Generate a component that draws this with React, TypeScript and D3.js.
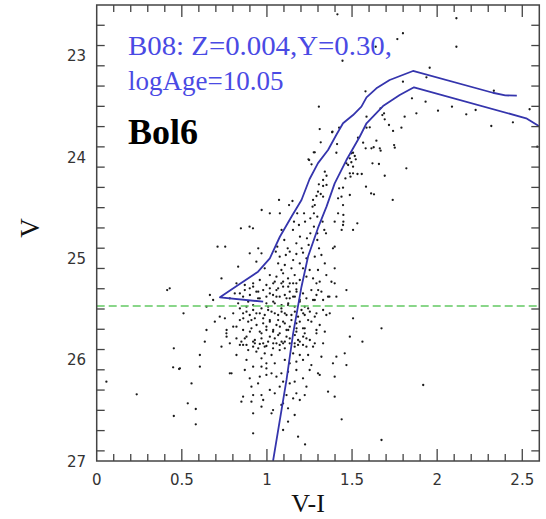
import React from "react";
import * as d3 from "d3";

// ---- data (V-I colour, V magnitude) ----
const isoUpper: [number, number][] = [
  [0.978, 25.428], [0.724, 25.385], [0.831, 25.263], [0.948, 25.132], [1.017, 25.0],
  [1.076, 24.787], [1.144, 24.589], [1.203, 24.424], [1.25, 24.22], [1.3, 24.06],
  [1.359, 23.931], [1.408, 23.78], [1.447, 23.667], [1.506, 23.586], [1.555, 23.503],
  [1.585, 23.411], [1.643, 23.322], [1.721, 23.24], [1.858, 23.151], [2.327, 23.366],
  [2.4, 23.392], [2.468, 23.395],
];
const isoLower: [number, number][] = [
  [1.036, 27.0], [1.076, 26.595], [1.115, 26.2], [1.154, 25.74], [1.203, 25.28],
  [1.242, 24.98], [1.3, 24.7], [1.35, 24.49], [1.398, 24.26], [1.467, 24.03],
  [1.545, 23.8], [1.585, 23.667], [1.682, 23.497], [1.78, 23.388], [1.864, 23.312],
  [2.523, 23.618], [2.597, 23.694],
];
const hbLevel = 25.47;

const brightStars: [number, number][] = [
  [1.414, 22.592], [2.113, 22.631], [1.799, 22.779], [1.766, 22.836], [2.113, 22.912], [1.639, 22.912],
  [1.444, 23.05], [1.956, 23.119], [1.937, 23.214], [1.799, 23.257], [1.579, 23.352], [2.333, 23.346],
  [1.305, 23.503], [1.852, 23.421], [1.932, 23.454], [1.878, 23.569], [2.005, 23.543], [2.087, 23.503],
  [2.171, 23.579], [2.226, 23.536], [2.318, 23.694], [2.445, 23.658], [2.543, 23.529], [2.588, 23.898],
  [1.31, 23.724], [1.316, 23.855], [1.383, 23.756], [1.424, 23.711], [1.281, 23.954], [1.248, 24.03],
  [1.262, 24.072], [1.34, 24.145], [1.35, 24.185], [1.412, 23.872], [1.408, 23.958], [1.467, 24.062],
  [1.487, 24.013], [1.506, 23.958], [1.487, 24.161], [1.496, 24.052], [1.522, 24.023], [1.535, 23.81],
  [1.565, 23.859], [1.58, 23.914], [1.585, 23.711], [1.604, 23.707], [1.585, 23.602], [1.667, 23.52],
  [1.678, 23.586], [1.688, 23.569], [1.692, 23.628], [1.717, 23.684], [1.741, 23.743], [1.79, 23.711],
  [1.809, 23.602], [1.747, 23.882], [1.751, 23.908], [1.614, 23.914], [1.627, 23.904], [1.643, 23.839],
  [1.663, 23.914], [1.668, 23.938], [1.62, 24.062], [1.658, 24.069], [1.819, 24.112], [1.692, 24.185],
  [1.532, 24.168], [1.557, 24.168],
];
const rgbStars: [number, number][] = [
  [1.385, 23.75], [1.275, 23.954], [1.244, 24.023], [1.33, 24.227], [1.305, 24.27], [1.33, 24.286],
  [1.35, 24.276], [1.3, 24.342], [1.316, 24.365], [1.291, 24.385], [1.33, 24.392], [1.271, 24.424],
  [1.281, 24.474], [1.268, 24.49], [1.15, 24.434], [1.13, 24.474], [1.424, 24.309], [1.447, 24.303],
  [1.438, 24.392], [1.418, 24.408], [1.447, 24.474], [1.487, 24.375], [1.491, 24.194], [1.461, 24.211],
  [1.506, 24.161], [1.477, 24.079], [1.506, 24.095], [1.516, 23.99], [1.496, 23.964],
  [1.276, 24.556], [1.255, 24.605], [1.296, 24.589], [1.327, 24.638], [1.218, 24.556], [1.178, 24.556],
  [1.224, 24.638], [1.276, 24.688], [1.337, 24.72], [1.347, 24.753], [1.296, 24.753], [1.255, 24.753],
  [1.235, 24.803], [1.194, 24.786], [1.153, 24.72], [1.159, 24.638], [1.188, 24.671], [1.086, 24.72],
  [1.102, 24.819], [1.173, 24.852], [1.204, 24.901], [1.245, 24.868], [1.296, 24.819], [1.306, 24.901],
  [1.122, 24.901], [1.061, 24.885], [1.388, 24.901], [1.439, 24.72], [1.531, 24.655], [1.398, 24.638],
  [1.449, 24.638], [1.418, 24.556], [1.449, 24.572], [1.582, 24.293], [1.612, 24.359], [1.629, 24.368],
  [1.739, 24.424], [1.506, 24.72], [1.447, 24.671], [1.398, 24.885], [1.017, 24.556], [1.076, 24.556],
  [0.969, 24.523], [0.898, 24.688], [0.847, 24.704], [0.918, 24.704], [0.949, 24.901], [0.755, 24.885],
  [0.71, 24.885], [1.071, 24.424], [0.968, 24.951],
];
const coreStars: [number, number][] = [
  [0.899, 24.951], [0.938, 25.033], [1.052, 24.934], [1.075, 24.984], [1.111, 24.967], [1.134, 24.934],
  [1.173, 24.957], [1.212, 24.944], [1.232, 25.0], [1.154, 25.017], [1.193, 25.05], [1.105, 25.066],
  [1.066, 25.05], [0.987, 25.099], [1.281, 24.984], [1.32, 24.967], [1.34, 25.05], [1.3, 25.115],
  [1.085, 25.115], [1.144, 25.099], [1.212, 25.099], [1.251, 25.115], [0.831, 25.082], [0.733, 25.198],
  [1.017, 25.165], [1.056, 25.181], [1.095, 25.148], [1.124, 25.198], [1.163, 25.165], [1.193, 25.214],
  [1.232, 25.181], [1.271, 25.198], [1.31, 25.23], [1.349, 25.165], [1.046, 25.23], [1.085, 25.247],
  [1.134, 25.247], [1.173, 25.247], [0.958, 25.214], [0.919, 25.247], [0.821, 25.247], [0.87, 25.263],
  [1.291, 25.247], [0.899, 25.296], [0.938, 25.329], [0.978, 25.313], [1.017, 25.296], [1.056, 25.313],
  [1.095, 25.28], [1.134, 25.329], [1.173, 25.306], [1.212, 25.346], [1.261, 25.313], [1.291, 25.362],
  [1.32, 25.329], [0.997, 25.378], [1.036, 25.362], [1.075, 25.378], [1.115, 25.395], [1.154, 25.378],
  [1.193, 25.411], [1.232, 25.395], [1.281, 25.411], [0.811, 25.346], [0.782, 25.395], [0.86, 25.378],
  [0.948, 25.395], [1.33, 25.411], [1.359, 25.378], [0.665, 25.362], [0.684, 25.411],
  [0.831, 25.444], [0.88, 25.477], [0.919, 25.461], [0.968, 25.494], [1.007, 25.477], [1.046, 25.444],
  [1.085, 25.494], [1.124, 25.461], [1.163, 25.477], [1.203, 25.51], [1.242, 25.494], [1.291, 25.543],
  [1.33, 25.51], [1.349, 25.559], [0.86, 25.543], [0.899, 25.559], [0.938, 25.543], [0.987, 25.559],
  [1.027, 25.526], [1.066, 25.559], [1.105, 25.543], [1.144, 25.559], [1.183, 25.576], [1.222, 25.559],
  [0.723, 25.576], [0.753, 25.592], [0.645, 25.477],
  [0.841, 25.609], [0.89, 25.625], [0.929, 25.592], [0.978, 25.641], [1.017, 25.609], [1.056, 25.658],
  [1.095, 25.625], [1.134, 25.674], [1.173, 25.641], [1.212, 25.691], [1.261, 25.625], [1.31, 25.658],
  [0.802, 25.674], [0.86, 25.707], [0.909, 25.691], [0.958, 25.724], [0.997, 25.707], [1.036, 25.724],
  [1.075, 25.74], [1.115, 25.707], [1.173, 25.724], [1.222, 25.74], [1.291, 25.74], [0.694, 25.625],
  [0.645, 25.707], [0.762, 25.74], [1.34, 25.724],
  [0.821, 25.79], [0.88, 25.773], [0.929, 25.806], [0.968, 25.79], [1.007, 25.822], [1.046, 25.79],
  [1.095, 25.839], [1.134, 25.79], [1.183, 25.806], [1.232, 25.79], [1.281, 25.839], [0.782, 25.839],
  [0.86, 25.855], [0.919, 25.872], [0.987, 25.872], [1.036, 25.888], [1.075, 25.855], [1.163, 25.872],
  [1.212, 25.855], [0.635, 25.822], [0.733, 25.872], [1.33, 25.839],
];
const coreStarsExtra: [number, number][] = [
  [0.841, 25.346], [0.87, 25.313], [0.9, 25.362], [0.919, 25.28], [0.949, 25.329], [0.997, 25.263],
  [1.037, 25.247], [1.066, 25.296], [1.095, 25.23], [1.125, 25.28], [1.154, 25.247], [1.174, 25.329],
  [1.017, 25.346], [1.056, 25.378], [1.105, 25.362], [1.134, 25.395], [1.164, 25.378], [0.958, 25.395],
  [0.89, 25.428], [0.997, 25.444], [1.037, 25.428], [1.086, 25.461], [1.125, 25.444], [1.193, 25.428],
  [1.222, 25.477], [0.841, 25.494], [0.88, 25.526], [0.919, 25.51], [0.958, 25.543], [1.007, 25.51],
  [1.046, 25.543], [1.086, 25.526], [1.115, 25.559], [1.164, 25.526], [1.213, 25.543], [1.252, 25.526],
  [0.802, 25.543], [0.861, 25.592], [0.909, 25.609], [0.978, 25.592], [1.017, 25.625], [1.066, 25.609],
  [1.105, 25.642], [1.144, 25.609], [1.193, 25.625], [1.242, 25.609], [0.939, 25.658], [0.997, 25.674],
  [1.037, 25.707], [1.076, 25.674], [1.125, 25.707], [1.174, 25.691], [1.222, 25.691], [0.821, 25.674],
  [0.763, 25.707], [0.9, 25.724], [0.968, 25.74], [1.017, 25.773], [1.066, 25.757], [1.115, 25.773],
  [1.164, 25.757], [1.213, 25.773], [0.87, 25.79], [0.919, 25.822], [0.978, 25.839], [1.037, 25.839],
  [1.086, 25.822], [1.134, 25.839], [1.183, 25.855], [1.252, 25.806], [0.841, 25.855], [0.949, 25.888],
  [1.105, 25.888], [1.291, 25.707], [1.281, 25.576], [1.271, 25.411], [1.301, 25.313],
];
const faintStars: [number, number][] = [
  [0.85, 25.822], [0.88, 25.855], [0.929, 25.839], [0.958, 25.845], [0.997, 25.865], [1.056, 25.839],
  [1.105, 25.822], [1.163, 25.839], [1.193, 25.822], [1.232, 25.872], [1.271, 25.872], [0.89, 25.905],
  [0.938, 25.921], [0.987, 25.938], [1.027, 25.954], [1.075, 25.905], [1.154, 25.938], [1.193, 25.954],
  [1.242, 25.954], [0.821, 25.954], [1.32, 25.971], [0.88, 26.003], [0.968, 25.987], [0.997, 26.036],
  [1.046, 26.036], [1.105, 26.003], [1.134, 26.036], [1.173, 26.02], [1.212, 26.003], [1.261, 26.053],
  [0.782, 26.135], [0.87, 26.102], [0.919, 26.069], [0.968, 26.069], [0.997, 26.086], [1.027, 26.135],
  [1.085, 26.135], [1.124, 26.119], [1.173, 26.102], [1.251, 26.102], [1.3, 26.135], [0.899, 26.184],
  [0.958, 26.168], [0.997, 26.151], [1.056, 26.168], [1.095, 26.217], [1.163, 26.217], [1.212, 26.184],
  [1.31, 26.151], [0.909, 26.267], [0.948, 26.234], [1.017, 26.299], [1.075, 26.267], [1.134, 26.234],
  [1.232, 26.267], [0.86, 26.365], [0.919, 26.349], [0.968, 26.349], [1.046, 26.332], [1.115, 26.349],
  [1.173, 26.332], [1.222, 26.349], [0.85, 26.415], [0.909, 26.415], [0.978, 26.398], [1.095, 26.431],
  [1.154, 26.382], [1.193, 26.398], [0.968, 26.464], [1.036, 26.497], [1.085, 26.447], [1.124, 26.48],
  [0.919, 26.53], [1.027, 26.53], [1.163, 26.546], [1.124, 26.612], [1.095, 26.694], [1.183, 26.76],
  [0.919, 26.727], [1.359, 26.316], [0.606, 25.954],
];
const fieldStars: [number, number][] = [
  [0.057, 26.217], [0.235, 26.342], [0.453, 25.888], [0.449, 26.076], [0.484, 26.092], [0.51, 25.543],
  [0.453, 26.556], [0.535, 26.431], [0.557, 26.234], [0.582, 26.487], [0.582, 26.638], [0.429, 25.296],
  [0.414, 25.313], [1.224, 26.836], [1.673, 26.793], [1.918, 26.25], [1.673, 25.691], [1.561, 25.822],
  [1.398, 26.365], [1.439, 26.589], [1.408, 25.97], [1.388, 26.036], [1.398, 25.099], [1.398, 25.247],
  [1.367, 25.378], [1.467, 25.313], [1.379, 25.231], [1.408, 25.378], [1.369, 25.543], [1.506, 25.592],
  [1.487, 25.773], [1.457, 25.937], [1.467, 26.053], [1.398, 26.168], [0.489, 26.085], [0.763, 25.773],
  [0.792, 26.135], [0.606, 26.069],
];

const xTicksMajor = [0, 0.5, 1, 1.5, 2, 2.5];
const xTickLabels = ["0", "0.5", "1", "1.5", "2", "2.5"];
const yTicksMajor = [23, 24, 25, 26, 27];
const yTickLabels = ["23", "24", "25", "26", "27"];
const titleLine1 = "B08: Z=0.004,Y=0.30,";
const titleLine2 = "logAge=10.05";
const clusterName = "Bol6";
const xLabel = "V-I";
const yLabel = "V";

export default function App() {
  const left = 96.7, right = 539.3, top = 5, bottom = 461;
  const x = d3.scaleLinear().domain([0, 2.6]).range([left, right]);
  const y = d3.scaleLinear().domain([22.5, 27]).range([top, bottom]);
  const line = d3.line<[number, number]>().x((d) => x(d[0])).y((d) => y(d[1]));

  const xMinor = d3.range(1, 26).map((i) => i / 10);
  const yMinor = d3.range(1, 23).map((i) => 22.5 + i * 0.2);
  const axisColor = "#444";
  const stars = [...brightStars, ...rgbStars, ...coreStars, ...coreStarsExtra, ...faintStars, ...fieldStars];

  return (
    <div style={{ position: "fixed", left: 0, top: 0, background: "#fff" }}>
      <svg width={546} height={519} style={{ display: "block" }}>
        <rect x={0} y={0} width={546} height={519} fill="#fff" />
        <defs>
          <clipPath id="plotClip">
            <rect x={left} y={top} width={right - left} height={bottom - top} />
          </clipPath>
        </defs>
        <g clipPath="url(#plotClip)">
          {stars.map((d, i) => (
            <circle key={i} cx={x(d[0])} cy={y(d[1])} r={1.15} fill="#1a1a1a" />
          ))}
          <line x1={left} x2={right} y1={y(hbLevel)} y2={y(hbLevel)} stroke="#63c963" strokeWidth={1.6} strokeDasharray="8,4" />
          <path d={line(isoUpper) || ""} fill="none" stroke="#3535ad" strokeWidth={1.8} strokeLinejoin="round" />
          <path d={line(isoLower) || ""} fill="none" stroke="#3535ad" strokeWidth={1.8} strokeLinejoin="round" />
        </g>
        <rect x={left} y={top} width={right - left} height={bottom - top} fill="none" stroke={axisColor} strokeWidth={1.5} />
        {xMinor.map((v) => {
          const major = Math.abs(v * 2 - Math.round(v * 2)) < 1e-6;
          const len = major ? 12 : 7;
          return (
            <g key={"xt" + v}>
              <line x1={x(v)} x2={x(v)} y1={bottom} y2={bottom - len} stroke={axisColor} strokeWidth={1.3} />
              <line x1={x(v)} x2={x(v)} y1={top} y2={top + len} stroke={axisColor} strokeWidth={1.3} />
            </g>
          );
        })}
        {yMinor.map((v) => {
          const major = Math.abs(v - Math.round(v)) < 1e-6;
          const len = major ? 13 : 8;
          return (
            <g key={"yt" + v}>
              <line x1={left} x2={left + len} y1={y(v)} y2={y(v)} stroke={axisColor} strokeWidth={1.3} />
              <line x1={right} x2={right - len} y1={y(v)} y2={y(v)} stroke={axisColor} strokeWidth={1.3} />
            </g>
          );
        })}
        {xTicksMajor.map((v, i) => (
          <text key={"xl" + v} x={x(v)} y={485} textAnchor="middle" fontFamily="'DejaVu Sans', sans-serif" fontSize={15} fill="#333">
            {xTickLabels[i]}
          </text>
        ))}
        {yTicksMajor.map((v, i) => (
          <text key={"yl" + v} x={86} y={y(v) + 5.5} textAnchor="end" fontFamily="'DejaVu Sans', sans-serif" fontSize={15} fill="#333">
            {yTickLabels[i]}
          </text>
        ))}
        <text x={308} y={512} textAnchor="middle" fontFamily="'Liberation Serif', serif" fontSize={26} fill="#111">
          {xLabel}
        </text>
        <text transform="translate(39,228) rotate(-90)" textAnchor="middle" fontFamily="'Liberation Serif', serif" fontSize={27} fill="#111">
          {yLabel}
        </text>
        <text x={128} y={55} fontFamily="'Liberation Serif', serif" fontSize={27} fill="#4a4ae4" textLength={264} lengthAdjust="spacingAndGlyphs">
          {titleLine1}
        </text>
        <text x={128} y={90} fontFamily="'Liberation Serif', serif" fontSize={27} fill="#4a4ae4">
          {titleLine2}
        </text>
        <text x={128} y={144} fontFamily="'Liberation Serif', serif" fontWeight="bold" fontSize={36} fill="#000">
          {clusterName}
        </text>
      </svg>
    </div>
  );
}
